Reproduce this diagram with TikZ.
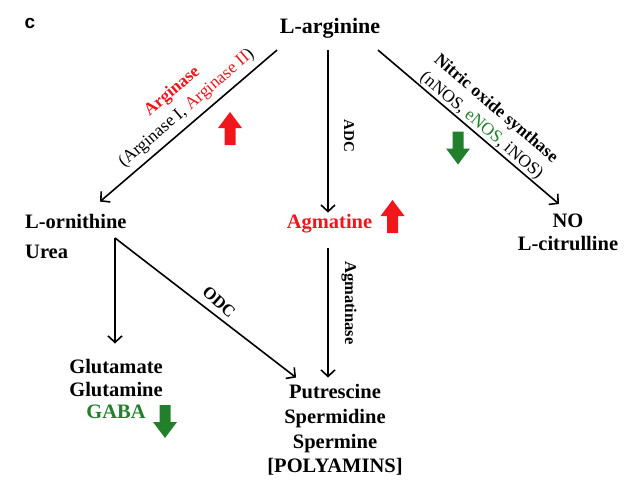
\documentclass[tikz,border=0pt]{standalone}
\usepackage{fontspec}
\setmainfont{Liberation Serif}
\newfontfamily\labelsans{Liberation Sans}
\usetikzlibrary{arrows.meta,calc}
\definecolor{ared}{RGB}{240,22,28}
\definecolor{agreen}{RGB}{34,128,44}
\begin{document}
\begin{tikzpicture}[x=1pt,y=-1pt,
  conn/.style={line width=1.6pt,-{Straight Barb[length=6.5pt,width=14pt]}},
  main/.style={font=\fontsize{20.5}{23}\selectfont\bfseries,inner sep=0pt},
  enz/.style={font=\fontsize{17.5}{22}\selectfont,inner sep=0pt,align=center},
  pics/blockup/.style={code={\fill[#1] (0,-16.5) -- (12,-0.5) -- (5.5,-0.5) -- (5.5,16.5) -- (-5.5,16.5) -- (-5.5,-0.5) -- (-12,-0.5) -- cycle;}},
  pics/blockdown/.style={code={\fill[#1] (0,16.5) -- (12,0.5) -- (5.5,0.5) -- (5.5,-16.5) -- (-5.5,-16.5) -- (-5.5,0.5) -- (-12,0.5) -- cycle;}},
]
\useasboundingbox (0,0) rectangle (644,479);

% panel letter
\node[font=\labelsans\bfseries\fontsize{19}{19}\selectfont,anchor=base,inner sep=0pt] (lab) at (30,28) {c};

% metabolites
\node[main,font=\fontsize{22}{24}\selectfont\bfseries,anchor=base] (arg) at (330,33) {L-arginine};
\node[main,anchor=base west] (orn) at (25,228) {L-ornithine};
\node[main,anchor=base west] (urea) at (25,258) {Urea};
\node[main,text=ared,anchor=base] (agm) at (329.5,228) {Agmatine};
\node[main,align=center,anchor=north] (no) at (568,213.5) {NO\\L-citrulline};
\node[main,font=\fontsize{20.5}{22.5}\selectfont\bfseries,align=center,anchor=north] (glu) at (116,359.5) {Glutamate\\Glutamine\\\textcolor{agreen}{GABA}};
\node[main,font=\fontsize{20.5}{24.6}\selectfont\bfseries,align=center,anchor=north] (poly) at (335,384.5) {Putrescine\\Spermidine\\Spermine\\{[}POLYAMINS{]}};

% connectors
\coordinate (br) at (115,238);
\draw[conn] ($(arg.south)+(-53,12)$) -- ($(orn.north west)+(75,-12)$);
\draw[conn] ($(arg.south)+(-2,12)$) -- ($(agm.north)+(-1.5,-1)$);
\draw[conn] ($(arg.south)+(48,12)$) -- ($(no.north)+(-9,-9.5)$);
\draw[conn] (br) -- ($(glu.north -| br)+(0,-16)$);
\draw[conn] (br) -- ($(poly.north)+(-39,-7)$);
\draw[conn] ($(agm.south)+(-1.5,15)$) -- ($(poly.north)+(-7,-7)$);

% enzyme labels
\node[enz,rotate=40.7] (argase) at (179.5,100) {\textbf{\textcolor{ared}{Arginase}}\\(Arginase I, \textcolor{ared}{Arginase II})};
\node[enz,rotate=-40.4] (nos) at (488.5,117.5) {\textbf{Nitric oxide synthase}\\(nNOS, \textcolor{agreen}{eNOS}, iNOS)};
\node[font=\fontsize{15}{15}\selectfont\bfseries,rotate=-90,inner sep=0pt] (adc) at (349,136) {ADC};
\node[font=\fontsize{16.5}{16.5}\selectfont\bfseries,rotate=-90,inner sep=0pt] (agmase) at (349,303) {Agmatinase};
\node[font=\fontsize{17}{17}\selectfont\bfseries,rotate=-42,inner sep=0pt] (odc) at (219,302) {ODC};

% up / down markers
\pic at (230,128.5) {blockup=ared};
\pic at (392.5,216.5) {blockup=ared};
\pic at (458,148) {blockdown=agreen};
\pic at (165,421.5) {blockdown=agreen};
\end{tikzpicture}
\end{document}
